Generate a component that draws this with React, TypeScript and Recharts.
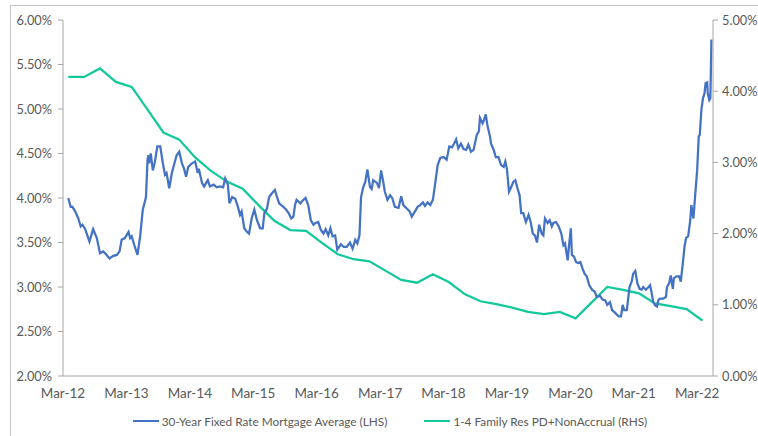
import { Legend, Line, LineChart, XAxis, YAxis } from "recharts";

// months since Mar-2012 for the weekly mortgage rate readings
const rateMonth = [
  1.0, 1.45, 1.8, 2.3, 2.9, 3.35, 3.7, 4.2, 5.0, 5.7, 6.4, 7.0, 7.6, 8.1, 8.8, 9.5, 10.2, 10.7, 11.1, 11.7,
  12.4, 12.7, 13.0, 13.6, 14.1, 14.6, 15.1, 15.5, 15.7, 16.0, 16.15, 16.3, 16.6, 17.0, 17.4, 17.85, 18.4, 18.9, 19.3, 19.6,
  20.1, 20.6, 21.0, 21.5, 22.0, 22.5, 22.9, 23.3, 23.7, 24.4, 25.0, 25.5, 25.7, 26.3, 26.7, 27.4, 27.8, 28.5, 29.1, 29.7,
  30.3, 30.7, 31.2, 31.5, 32.0, 32.6, 33.1, 33.5, 33.8, 34.3, 34.8, 35.2, 35.7, 36.2, 36.7, 37.3, 37.8, 38.1, 38.6, 39.0,
  39.5, 40.1, 40.4, 40.9, 41.3, 41.7, 42.2, 42.7, 43.2, 43.6, 43.9, 44.2, 44.9, 45.5, 45.9, 46.4, 46.9, 47.4, 47.8, 48.3,
  48.8, 49.3, 49.7, 50.2, 50.6, 51.0, 51.5, 51.9, 52.6, 53.1, 53.7, 54.3, 54.8, 55.3, 55.7, 56.1, 56.4, 56.8, 57.2, 57.6,
  58.1, 58.4, 58.7, 59.4, 59.8, 60.2, 60.6, 60.9, 61.4, 61.9, 62.3, 62.8, 63.5, 64.0, 64.4, 65.1, 65.6, 66.0, 66.6, 67.1,
  67.6, 68.1, 68.5, 69.0, 69.5, 70.0, 70.4, 70.9, 71.4, 72.0, 72.6, 73.1, 73.6, 74.0, 74.4, 74.8, 75.3, 75.8, 76.3, 76.7,
  77.2, 77.7, 78.3, 78.7, 78.9, 79.4, 79.7, 80.0, 80.3, 80.8, 81.0, 81.5, 81.9, 82.4, 82.9, 83.4, 83.7, 84.0, 84.4, 84.8,
  85.2, 85.6, 86.0, 86.4, 86.7, 87.1, 87.6, 88.1, 88.5, 88.9, 89.3, 89.7, 90.1, 90.6, 90.9, 91.2, 91.7, 92.1, 92.5, 92.8,
  93.3, 93.8, 94.3, 94.7, 95.0, 95.5, 95.8, 96.1, 96.3, 96.7, 97.1, 97.5, 97.9, 98.3, 98.7, 99.1, 99.6, 100.1, 100.6, 101.0,
  101.6, 102.1, 102.6, 103.0, 103.5, 103.9, 104.3, 104.8, 105.2, 105.6, 105.9, 106.2, 106.7, 107.2, 107.6, 107.9, 108.3, 108.7, 109.1, 109.5,
  109.8, 110.3, 110.8, 111.1, 111.4, 111.7, 112.1, 112.4, 112.7, 113.1, 113.6, 114.1, 114.3, 114.7, 115.0, 115.4, 115.6, 116.1, 116.6, 116.9,
  117.3, 117.6, 117.9, 118.3, 118.7, 118.9, 119.3, 119.6, 120.0, 120.3, 120.5, 120.8, 121.1, 121.4, 121.6, 121.9, 122.0, 122.3, 122.5, 122.7
];

const rateValue = [
  4.00, 3.90, 3.90, 3.85, 3.77, 3.68, 3.70, 3.65, 3.51, 3.65, 3.55, 3.38, 3.40, 3.37, 3.32, 3.35, 3.36, 3.40, 3.53, 3.55,
  3.62, 3.55, 3.57, 3.45, 3.36, 3.57, 3.87, 3.96, 4.01, 4.43, 4.48, 4.39, 4.50, 4.31, 4.41, 4.58, 4.58, 4.39, 4.26, 4.28,
  4.11, 4.28, 4.37, 4.48, 4.52, 4.39, 4.33, 4.24, 4.35, 4.39, 4.41, 4.28, 4.33, 4.17, 4.13, 4.20, 4.13, 4.15, 4.12, 4.13,
  4.12, 4.22, 4.15, 3.94, 4.01, 3.99, 3.90, 3.81, 3.85, 3.66, 3.62, 3.60, 3.77, 3.87, 3.75, 3.66, 3.66, 3.83, 3.88, 4.01,
  4.05, 4.09, 4.03, 3.94, 3.92, 3.90, 3.87, 3.83, 3.77, 3.79, 3.92, 3.98, 3.94, 3.98, 4.00, 3.92, 3.75, 3.70, 3.72, 3.73,
  3.64, 3.60, 3.65, 3.58, 3.66, 3.57, 3.58, 3.42, 3.48, 3.45, 3.45, 3.50, 3.43, 3.53, 3.49, 3.58, 4.01, 4.12, 4.18, 4.32,
  4.12, 4.10, 4.20, 4.17, 4.11, 4.31, 4.18, 4.07, 3.98, 4.03, 4.00, 3.90, 3.89, 4.02, 3.92, 3.88, 3.85, 3.79, 3.85, 3.90,
  3.92, 3.95, 3.91, 3.95, 3.92, 3.98, 4.15, 4.37, 4.45, 4.46, 4.43, 4.58, 4.57, 4.61, 4.66, 4.56, 4.61, 4.55, 4.54, 4.60,
  4.52, 4.54, 4.71, 4.75, 4.90, 4.84, 4.88, 4.94, 4.82, 4.69, 4.61, 4.54, 4.46, 4.46, 4.37, 4.35, 4.41, 4.33, 4.07, 4.12,
  4.18, 4.20, 4.11, 4.03, 3.83, 3.83, 3.73, 3.81, 3.73, 3.60, 3.58, 3.50, 3.70, 3.60, 3.58, 3.77, 3.72, 3.75, 3.68, 3.72,
  3.73, 3.68, 3.60, 3.47, 3.49, 3.30, 3.49, 3.66, 3.36, 3.34, 3.28, 3.27, 3.28, 3.21, 3.15, 3.12, 3.02, 2.97, 2.95, 2.89,
  2.90, 2.86, 2.85, 2.80, 2.83, 2.74, 2.72, 2.69, 2.67, 2.67, 2.80, 2.74, 2.74, 3.00, 3.06, 3.15, 3.18, 3.04, 2.98, 2.97,
  3.00, 2.97, 3.00, 3.02, 2.93, 2.83, 2.79, 2.78, 2.86, 2.87, 2.87, 2.89, 3.00, 3.04, 3.13, 2.98, 3.10, 3.12, 3.12, 3.06,
  3.27, 3.45, 3.55, 3.57, 3.75, 3.92, 3.77, 4.01, 4.31, 4.69, 4.71, 4.99, 5.12, 5.18, 5.29, 5.30, 5.18, 5.10, 5.12, 5.78
];

// quarter ends, months since Mar-2012
const delinqMonth = [
  1, 4, 7, 10, 13, 16, 19, 22, 25, 28, 31, 34, 37, 40, 43, 46, 49, 52, 55, 58, 61,
  64, 67, 70, 73, 76, 79, 82, 85, 88, 91, 94, 97, 100, 103, 106, 109, 112, 115, 118, 121
];

const delinqValue = [
  4.20, 4.20, 4.32, 4.13, 4.06, 3.74, 3.42, 3.32, 3.07, 2.88, 2.73, 2.63, 2.40, 2.18, 2.05, 2.04, 1.87, 1.71, 1.64, 1.61, 1.48,
  1.35, 1.31, 1.43, 1.32, 1.15, 1.05, 1.01, 0.96, 0.90, 0.87, 0.90, 0.81, 1.03, 1.25, 1.21, 1.16, 1.02, 0.98, 0.94, 0.78
];

const xTicks = [0, 12, 24, 36, 48, 60, 72, 84, 96, 108, 120];
const xTickLabels = ["Mar-12", "Mar-13", "Mar-14", "Mar-15", "Mar-16", "Mar-17", "Mar-18", "Mar-19", "Mar-20", "Mar-21", "Mar-22"];
const leftTicks = [2, 2.5, 3, 3.5, 4, 4.5, 5, 5.5, 6];
const rightTicks = [0, 1, 2, 3, 4, 5];

const RATE_NAME = "30-Year Fixed Rate Mortgage Average (LHS)";
const DELINQ_NAME = "1-4 Family Res PD+NonAccrual (RHS)";
const BLUE = "#4472C4";
const GREEN = "#12C89C";
const AXIS = "#a6a6a6";
const TEXT = "#595959";

const rateData = rateMonth.map((m, i) => ({ m, rate: rateValue[i] }));
const delinqData = delinqMonth.map((m, i) => ({ m, pd: delinqValue[i] }));

function LegendBox() {
  const items = [
    { name: RATE_NAME, color: BLUE },
    { name: DELINQ_NAME, color: GREEN }
  ];
  return (
    <div
      style={{
        height: 20,
        display: "flex",
        justifyContent: "center",
        alignItems: "center",
        paddingLeft: 22,
        gap: 37,
        fontSize: 11.8,
        color: TEXT
      }}
    >
      {items.map((item) => (
        <div key={item.name} style={{ display: "flex", alignItems: "center" }}>
          <span style={{ width: 26, height: 2.5, background: item.color, marginRight: 3 }} />
          <span>{item.name}</span>
        </div>
      ))}
    </div>
  );
}

export default function App() {
  const tick = { fill: TEXT, fontSize: 12.8 };
  return (
    <div
      style={{
        position: "absolute",
        left: 0,
        top: 0,
        width: 758,
        height: 436,
        overflow: "hidden",
        background: "#fff",
        fontFamily: "Lato, 'Liberation Sans', sans-serif"
      }}
    >
      <div
        style={{
          position: "absolute",
          left: 10,
          top: 5,
          width: 800,
          height: 500,
          border: "1px solid #c4c4c4"
        }}
      />
      <div style={{ position: "absolute", left: 0, top: 0 }}>
        <LineChart width={758} height={436} margin={{ top: 20, right: 0, bottom: 9, left: 0 }}>
          <XAxis
            dataKey="m"
            type="number"
            domain={[0, 123]}
            ticks={xTicks}
            tickFormatter={(v) => xTickLabels[xTicks.indexOf(v)] ?? ""}
            tickLine={false}
            tickSize={6}
            tickMargin={6}
            axisLine={{ stroke: AXIS }}
            tick={{ fill: TEXT, fontSize: 13.5 }}
            height={31}
            interval={0}
          />
          <YAxis
            yAxisId="left"
            domain={[2, 6]}
            ticks={leftTicks}
            tickFormatter={(v) => `${v.toFixed(2)}%`}
            width={63}
            tickSize={5}
            tickMargin={6}
            axisLine={{ stroke: AXIS }}
            tickLine={{ stroke: AXIS }}
            tick={tick}
            interval={0}
          />
          <YAxis
            yAxisId="right"
            orientation="right"
            domain={[0, 5]}
            ticks={rightTicks}
            tickFormatter={(v) => `${v.toFixed(2)}%`}
            width={45}
            tickSize={5}
            tickMargin={4}
            axisLine={{ stroke: AXIS }}
            tickLine={{ stroke: AXIS }}
            tick={tick}
            interval={0}
          />
          <Legend
            verticalAlign="bottom"
            height={20}
            wrapperStyle={{ bottom: 5 }}
            content={() => <LegendBox />}
          />
          <Line
            yAxisId="right"
            data={delinqData}
            dataKey="pd"
            name={DELINQ_NAME}
            type="linear"
            stroke={GREEN}
            strokeWidth={2.25}
            dot={false}
            isAnimationActive={false}
          />
          <Line
            yAxisId="left"
            data={rateData}
            dataKey="rate"
            name={RATE_NAME}
            type="linear"
            stroke={BLUE}
            strokeWidth={2.25}
            dot={false}
            isAnimationActive={false}
          />
        </LineChart>
      </div>
    </div>
  );
}
